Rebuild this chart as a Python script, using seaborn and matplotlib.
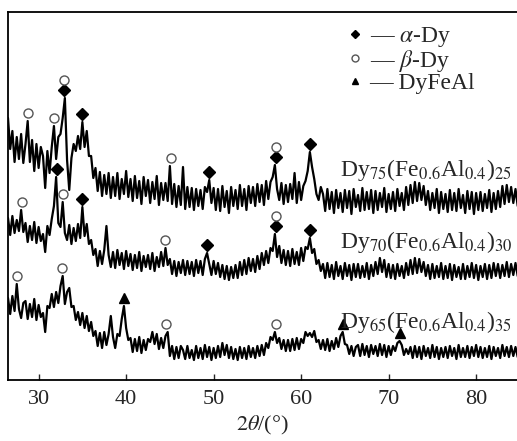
import numpy as np
import pandas as pd
import matplotlib
matplotlib.use("Agg")
import matplotlib.pyplot as plt
from matplotlib.lines import Line2D
import seaborn as sns

# XRD scans, 2theta from 26.5 deg in 0.25 deg steps, intensity in a.u. (already stacked)
start = 26.5
step = 0.25

dy75 = [262, 231, 249, 218, 243, 221, 246, 217,
        236, 259, 218, 240, 209, 236, 212, 233,
        224, 192, 229, 207, 233, 254, 221, 243,
        246, 262, 282, 220, 190, 222, 236, 229,
        244, 231, 258, 233, 249, 224, 224, 202,
        212, 189, 208, 184, 205, 186, 207, 182,
        203, 184, 207, 181, 201, 186, 209, 183,
        201, 179, 204, 182, 199, 176, 203, 184,
        200, 177, 198, 181, 204, 175, 197, 180,
        197, 179, 214, 176, 196, 173, 194, 175,
        213, 171, 193, 173, 192, 170, 191, 174,
        190, 171, 193, 188, 200, 177, 192, 170,
        191, 169, 194, 173, 189, 167, 193, 174,
        190, 171, 195, 174, 191, 170, 194, 177,
        193, 174, 196, 178, 195, 175, 199, 181,
        198, 203, 215, 191, 180, 197, 176, 195,
        178, 196, 181, 207, 177, 198, 180, 194,
        199, 209, 228, 213, 201, 186, 180, 193,
        186, 169, 191, 171, 188, 167, 190, 172,
        187, 168, 190, 172, 189, 166, 191, 173,
        185, 169, 192, 170, 188, 171, 190, 167,
        189, 170, 187, 173, 192, 168, 186, 171,
        188, 169, 191, 174, 187, 170, 193, 175,
        195, 177, 198, 179, 197, 180, 194, 175,
        189, 170, 187, 172, 191, 167, 188, 171,
        186, 168, 190, 170, 187, 169, 191, 172,
        185, 167, 189, 171, 188, 166, 187, 170,
        188, 169, 186, 172, 190, 168, 187, 171,
        189, 173, 194, 176, 195, 178, 193, 177,
        191, 174]

dy70 = [162, 145, 164, 147, 160, 149, 170, 148,
        157, 138, 154, 140, 158, 137, 153, 139,
        146, 128, 154, 145, 161, 174, 203, 157,
        153, 178, 147, 140, 155, 136, 152, 139,
        156, 142, 173, 144, 156, 136, 140, 125,
        131, 114, 129, 116, 130, 154, 125, 113,
        128, 112, 130, 115, 127, 111, 129, 114,
        126, 110, 125, 112, 128, 109, 124, 113,
        125, 111, 127, 109, 123, 113, 128, 114,
        132, 115, 121, 106, 119, 104, 118, 107,
        120, 105, 119, 106, 118, 104, 120, 107,
        119, 105, 121, 127, 116, 105, 119, 106,
        117, 103, 115, 101, 114, 100, 113, 102,
        115, 102, 118, 105, 120, 106, 122, 109,
        121, 108, 124, 111, 127, 115, 129, 117,
        132, 129, 146, 123, 134, 117, 130, 115,
        129, 114, 131, 116, 128, 115, 132, 119,
        133, 131, 142, 127, 131, 116, 120, 109,
        116, 102, 117, 103, 115, 101, 118, 104,
        114, 101, 117, 104, 115, 100, 116, 103,
        116, 102, 114, 103, 117, 101, 115, 104,
        118, 106, 122, 108, 120, 103, 116, 102,
        115, 101, 116, 104, 114, 102, 117, 105,
        120, 106, 122, 107, 121, 108, 118, 104,
        115, 101, 116, 102, 114, 103, 117, 101,
        114, 102, 116, 100, 115, 103, 113, 101,
        116, 101, 114, 103, 117, 102, 115, 100,
        114, 103, 116, 101, 115, 102, 117, 104,
        116, 102, 115, 104, 118, 103, 116, 105,
        117, 104]

dy65 = [82, 66, 84, 69, 96, 71, 62, 77,
        79, 61, 76, 63, 81, 60, 75, 63,
        67, 48, 74, 72, 86, 73, 88, 77,
        94, 104, 76, 88, 92, 73, 74, 60,
        68, 55, 67, 52, 64, 49, 58, 44,
        49, 34, 47, 32, 48, 35, 46, 64,
        43, 32, 46, 44, 61, 74, 52, 40,
        42, 28, 41, 29, 43, 27, 40, 30,
        41, 38, 48, 36, 46, 31, 42, 32,
        44, 48, 24, 34, 21, 33, 22, 34,
        30, 21, 34, 22, 30, 20, 34, 22,
        32, 21, 35, 23, 33, 20, 32, 22,
        34, 23, 37, 25, 35, 22, 33, 21,
        31, 20, 33, 22, 32, 21, 34, 23,
        32, 22, 34, 24, 35, 25, 37, 32,
        43, 40, 48, 37, 42, 31, 40, 29,
        40, 29, 41, 30, 42, 31, 41, 37,
        48, 44, 47, 43, 49, 38, 40, 31,
        40, 30, 41, 29, 39, 31, 42, 33,
        44, 48, 36, 35, 26, 34, 24, 33,
        35, 24, 36, 25, 34, 23, 35, 26,
        34, 24, 36, 25, 35, 23, 34, 25,
        34, 29, 37, 39, 35, 25, 31, 26,
        33, 22, 34, 23, 33, 21, 34, 24,
        32, 22, 35, 23, 33, 21, 32, 23,
        33, 22, 34, 24, 32, 21, 35, 23,
        32, 23, 34, 22, 33, 24, 35, 23,
        33, 22, 32, 23, 34, 21, 33, 24,
        32, 22, 35, 24, 33, 23, 34, 24,
        33, 23]

# indexed peaks (2theta)
alpha_75 = [32.9, 34.95, 49.5, 57.1, 61.0]
beta_75 = [28.8, 31.8, 32.9, 45.1, 57.1]
alpha_70 = [32.1, 34.95, 49.3, 57.1, 61.0]
beta_70 = [28.1, 32.8, 44.4, 57.1]
beta_65 = [27.5, 32.7, 44.6, 57.1]
dyfeal_65 = [39.8, 64.8, 71.3]

labels = [r"Dy$_{75}$(Fe$_{0.6}$Al$_{0.4}$)$_{25}$",
          r"Dy$_{70}$(Fe$_{0.6}$Al$_{0.4}$)$_{30}$",
          r"Dy$_{65}$(Fe$_{0.6}$Al$_{0.4}$)$_{35}$"]
label_pos = [(64.45, 204), (64.45, 132), (64.45, 52)]

tt = start + step * np.arange(len(dy75))
df = pd.concat([
    pd.DataFrame({"two_theta": tt, "intensity": dy75, "sample": "75"}),
    pd.DataFrame({"two_theta": tt, "intensity": dy70, "sample": "70"}),
    pd.DataFrame({"two_theta": tt, "intensity": dy65, "sample": "65"}),
])

sns.set_theme(style="ticks")
plt.rcParams["font.family"] = ["Liberation Serif", "DejaVu Serif"]
plt.rcParams["mathtext.fontset"] = "stix"

fig = plt.figure(figsize=(5.17, 4.41), dpi=100)
ax = fig.add_axes([8 / 517, 61 / 441, 509 / 517, 368 / 441])

sns.lineplot(data=df, x="two_theta", y="intensity", units="sample",
             estimator=None, color="black", lw=1.6, ax=ax, sort=False)


def mark(y, positions, marker, lift, stacked=(), **kw):
    y = np.asarray(y)
    for p in positions:
        near = (tt > p - 0.3) & (tt < p + 0.3)
        top = y[near].max() + lift + (10 if p in stacked else 0)
        ax.plot(p, top, marker=marker, ls="none", **kw)


dia = dict(color="black", ms=6)
circ = dict(mfc="white", mec="#555555", mew=1.0, ms=6.5)
tri = dict(color="black", ms=6.5)

mark(dy75, alpha_75, "D", 8, **dia)
mark(dy75, beta_75, "o", 8, stacked=alpha_75, **circ)
mark(dy70, alpha_70, "D", 8, **dia)
mark(dy70, beta_70, "o", 8, stacked=alpha_70, **circ)
mark(dy65, beta_65, "o", 8, **circ)
mark(dy65, dyfeal_65, "^", 8, **tri)

for lab, (x, y) in zip(labels, label_pos):
    ax.text(x, y, lab, fontsize=17, va="baseline", ha="left")

handles = [Line2D([], [], marker="D", color="black", ls="none", ms=4.5),
           Line2D([], [], marker="o", mfc="white", mec="#555555", ls="none", ms=5),
           Line2D([], [], marker="^", color="black", ls="none", ms=5)]
ax.legend(handles, [r"— $\alpha$-Dy", r"— $\beta$-Dy", "— DyFeAl"],
          loc="upper left", bbox_to_anchor=(0.636, 1.01), frameon=False,
          fontsize=17, handlelength=0.6, handletextpad=0.3, labelspacing=-0.05,
          borderpad=0.2)

ax.set_xlim(start, start + 509 / 8.75)
ax.set_ylim(0, 368)
ax.set_xticks([30, 40, 50, 60, 70, 80])
ax.set_yticks([])
ax.tick_params(axis="x", direction="in", length=4, width=1, labelsize=16, pad=7)
ax.set_xlabel(r"$2\theta$/(°)", fontsize=16, labelpad=4)
ax.set_ylabel("")
for side in ["left", "top", "bottom"]:
    ax.spines[side].set_linewidth(1.3)
    ax.spines[side].set_color("black")
ax.spines["right"].set_visible(False)

fig.savefig("out.png", dpi=100)
